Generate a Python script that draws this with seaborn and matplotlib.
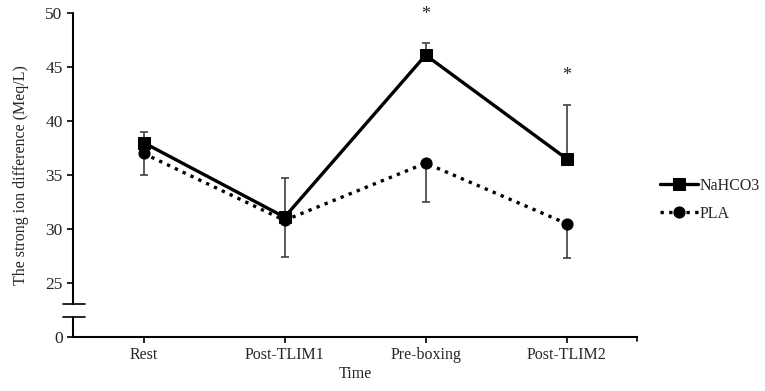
import seaborn as sns
import pandas as pd
import matplotlib.pyplot as plt

# data
time_points = ["Rest", "Post-TLIM1", "Pre-boxing", "Post-TLIM2"]
nahco3_mean = [38.0, 31.1, 46.1, 36.5]
nahco3_sd = [1.0, 3.6, 1.1, 5.0]
pla_mean = [37.0, 30.8, 36.1, 30.5]
pla_sd = [2.0, 3.4, 3.6, 3.2]
star_points = ["Pre-boxing", "Post-TLIM2"]
y_ticks = [20, 25, 30, 35, 40, 45, 50]
y_tick_labels = ["0", "25", "30", "35", "40", "45", "50"]

df = pd.DataFrame({
    "Time": time_points * 2,
    "value": nahco3_mean + pla_mean,
    "group": ["NaHCO3"] * 4 + ["PLA"] * 4,
})

sns.set_style("white")
plt.rcParams['font.family'] = ['Liberation Serif', 'DejaVu Serif']

fig = plt.figure(figsize=(7.65, 3.91), dpi=100)
ax = fig.add_axes([0.0954, 0.138, 0.833 - 0.0954, 0.9668 - 0.138])

x = list(range(len(time_points)))
# one-sided error bars: up for NaHCO3, down for PLA
ax.errorbar(x, nahco3_mean, yerr=[[0] * 4, nahco3_sd], fmt="none",
            ecolor="#404040", elinewidth=1.2, capsize=3, capthick=1.2, zorder=1)
ax.errorbar(x, pla_mean, yerr=[pla_sd, [0] * 4], fmt="none",
            ecolor="#404040", elinewidth=1.2, capsize=3, capthick=1.2, zorder=1)

sns.lineplot(data=df, x="Time", y="value", hue="group", style="group",
             palette=["black", "black"], markers={"NaHCO3": "s", "PLA": "o"},
             dashes={"NaHCO3": "", "PLA": (1, 1.6)}, markersize=8,
             markeredgecolor="black", linewidth=2.4, ax=ax, zorder=3, sort=False)

for lbl in star_points:
    i = time_points.index(lbl)
    top = nahco3_mean[i] + nahco3_sd[i]
    ax.text(i, top + 2.7, "*", ha="center", va="center", fontsize=13)

ax.set_xlim(-0.5, 3.5)
ax.set_ylim(20, 50)
ax.set_yticks(y_ticks)
ax.set_yticklabels(y_tick_labels)
ax.set_xticks(x)
ax.set_xticklabels(time_points)
ax.tick_params(axis="both", length=4, width=1.2, color="black",
               direction="out", left=True, bottom=True)
ax.tick_params(axis="y", labelsize=12.5)
ax.tick_params(axis="x", labelsize=11.5)
ax.set_xlabel("Time", fontsize=11.5, labelpad=2)
ax.set_ylabel("The strong ion difference (Meq/L)", fontsize=11.5, labelpad=12)

for s in ["top", "right", "left"]:
    ax.spines[s].set_visible(False)
ax.spines["bottom"].set_color("black")
ax.spines["bottom"].set_linewidth(1.5)

# broken y axis drawn by hand
yb_hi, yb_lo = 23.1, 21.9
tr = ax.get_yaxis_transform()
ax.plot([0, 0], [yb_hi, 50], color="black", lw=1.5, transform=tr, clip_on=False)
ax.plot([0, 0], [20, yb_lo], color="black", lw=1.5, transform=tr, clip_on=False)
for yb in (yb_hi, yb_lo):
    ax.plot([-0.018, 0.022], [yb, yb], color="black", lw=1.2, transform=tr, clip_on=False)
# tick at the right end of the x axis
ax.plot([1, 1], [0, -0.012], color="black", lw=1.2, transform=ax.transAxes, clip_on=False)

handles, labels = ax.get_legend_handles_labels()
ax.legend(handles, labels, loc="center left", bbox_to_anchor=(1.015, 0.423),
          frameon=False, fontsize=11.5, handlelength=2.4, handletextpad=0.1,
          labelspacing=0.75)

fig.savefig("out.png", dpi=100)
